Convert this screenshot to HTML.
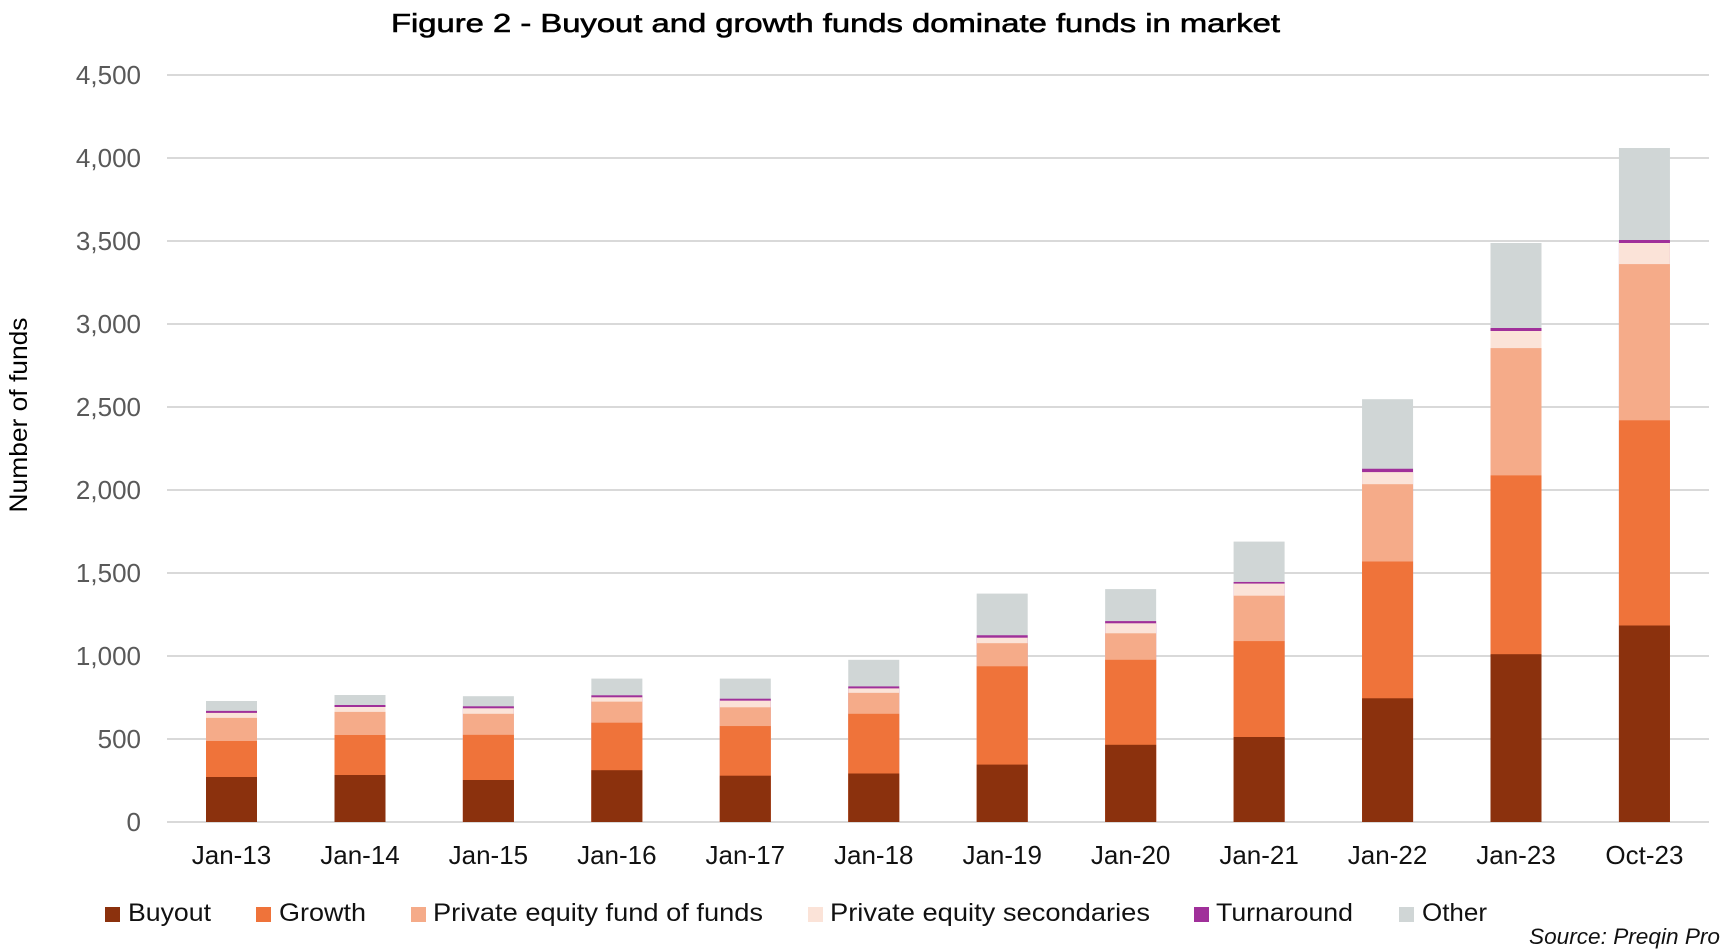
<!DOCTYPE html>
<html>
<head>
<meta charset="utf-8">
<style>
html,body{margin:0;padding:0;background:#fff;}
svg{display:block;}
text{font-family:"Liberation Sans",Arial,sans-serif;}
</style>
</head>
<body>
<svg width="1731" height="950" viewBox="0 0 1731 950" xmlns="http://www.w3.org/2000/svg">
<rect x="0" y="0" width="1731" height="950" fill="#ffffff"/>
<!-- Title -->
<text x="391" y="32" font-size="26" fill="#000" stroke="#000" stroke-width="0.6" textLength="889" lengthAdjust="spacingAndGlyphs">Figure 2 - Buyout and growth funds dominate funds in market</text>

<!-- Gridlines -->
<g stroke="#d9d9d9" stroke-width="2">
<line x1="167" y1="822" x2="1709" y2="822"/>
<line x1="167" y1="739" x2="1709" y2="739"/>
<line x1="167" y1="656" x2="1709" y2="656"/>
<line x1="167" y1="573" x2="1709" y2="573"/>
<line x1="167" y1="490" x2="1709" y2="490"/>
<line x1="167" y1="407" x2="1709" y2="407"/>
<line x1="167" y1="324" x2="1709" y2="324"/>
<line x1="167" y1="241" x2="1709" y2="241"/>
<line x1="167" y1="158" x2="1709" y2="158"/>
<line x1="167" y1="75" x2="1709" y2="75"/>
</g>

<!-- Y tick labels -->
<g font-size="26" fill="#595959" text-anchor="end">
<text x="141" y="831">0</text>
<text x="141" y="748">500</text>
<text x="141" y="665">1,000</text>
<text x="141" y="582">1,500</text>
<text x="141" y="499">2,000</text>
<text x="141" y="416">2,500</text>
<text x="141" y="333">3,000</text>
<text x="141" y="250">3,500</text>
<text x="141" y="167">4,000</text>
<text x="141" y="84">4,500</text>
</g>

<!-- Y axis title -->
<text transform="translate(27,415) rotate(-90)" font-size="25" fill="#000" text-anchor="middle" textLength="195" lengthAdjust="spacingAndGlyphs">Number of funds</text>

<!-- Bars -->
<g>
<!-- Jan-13 -->
<rect x="206" y="701" width="51" height="121" fill="#d0d6d6"/>
<rect x="206" y="710.9" width="51" height="111.1" fill="#a0309a"/>
<rect x="206" y="712.9" width="51" height="109.1" fill="#fbe3d8"/>
<rect x="206" y="717.9" width="51" height="104.1" fill="#f5ab89"/>
<rect x="206" y="741" width="51" height="81" fill="#ef733a"/>
<rect x="206" y="777" width="51" height="45" fill="#8b310d"/>
<!-- Jan-14 -->
<rect x="334.5" y="695" width="51" height="127" fill="#d0d6d6"/>
<rect x="334.5" y="705" width="51" height="117" fill="#a0309a"/>
<rect x="334.5" y="707" width="51" height="115" fill="#fbe3d8"/>
<rect x="334.5" y="711.9" width="51" height="110.1" fill="#f5ab89"/>
<rect x="334.5" y="735" width="51" height="87" fill="#ef733a"/>
<rect x="334.5" y="775" width="51" height="47" fill="#8b310d"/>
<!-- Jan-15 -->
<rect x="462.9" y="696.2" width="51" height="125.8" fill="#d0d6d6"/>
<rect x="462.9" y="706.3" width="51" height="115.7" fill="#a0309a"/>
<rect x="462.9" y="708.3" width="51" height="113.7" fill="#fbe3d8"/>
<rect x="462.9" y="713.8" width="51" height="108.2" fill="#f5ab89"/>
<rect x="462.9" y="734.85" width="51" height="87.15" fill="#ef733a"/>
<rect x="462.9" y="780" width="51" height="42" fill="#8b310d"/>
<!-- Jan-16 -->
<rect x="591.35" y="678.6" width="51" height="143.4" fill="#d0d6d6"/>
<rect x="591.35" y="695.3" width="51" height="126.7" fill="#a0309a"/>
<rect x="591.35" y="697.3" width="51" height="124.7" fill="#fbe3d8"/>
<rect x="591.35" y="701.65" width="51" height="120.35" fill="#f5ab89"/>
<rect x="591.35" y="722.7" width="51" height="99.3" fill="#ef733a"/>
<rect x="591.35" y="770.2" width="51" height="51.8" fill="#8b310d"/>
<!-- Jan-17 -->
<rect x="719.8" y="678.6" width="51" height="143.4" fill="#d0d6d6"/>
<rect x="719.8" y="698.7" width="51" height="123.3" fill="#a0309a"/>
<rect x="719.8" y="700.65" width="51" height="121.35" fill="#fbe3d8"/>
<rect x="719.8" y="707.3" width="51" height="114.7" fill="#f5ab89"/>
<rect x="719.8" y="726.05" width="51" height="95.95" fill="#ef733a"/>
<rect x="719.8" y="775.7" width="51" height="46.3" fill="#8b310d"/>
<!-- Jan-18 -->
<rect x="848.25" y="659.8" width="51" height="162.2" fill="#d0d6d6"/>
<rect x="848.25" y="686.4" width="51" height="135.6" fill="#a0309a"/>
<rect x="848.25" y="688.4" width="51" height="133.6" fill="#fbe3d8"/>
<rect x="848.25" y="692.85" width="51" height="129.15" fill="#f5ab89"/>
<rect x="848.25" y="713.8" width="51" height="108.2" fill="#ef733a"/>
<rect x="848.25" y="773.5" width="51" height="48.5" fill="#8b310d"/>
<!-- Jan-19 -->
<rect x="976.7" y="593.6" width="51" height="228.4" fill="#d0d6d6"/>
<rect x="976.7" y="635.25" width="51" height="186.75" fill="#a0309a"/>
<rect x="976.7" y="637.7" width="51" height="184.3" fill="#fbe3d8"/>
<rect x="976.7" y="643.2" width="51" height="178.8" fill="#f5ab89"/>
<rect x="976.7" y="666.3" width="51" height="155.7" fill="#ef733a"/>
<rect x="976.7" y="764.6" width="51" height="57.4" fill="#8b310d"/>
<!-- Jan-20 -->
<rect x="1105.15" y="589.1" width="51" height="232.9" fill="#d0d6d6"/>
<rect x="1105.15" y="621.1" width="51" height="200.9" fill="#a0309a"/>
<rect x="1105.15" y="623.3" width="51" height="198.7" fill="#fbe3d8"/>
<rect x="1105.15" y="633.3" width="51" height="188.7" fill="#f5ab89"/>
<rect x="1105.15" y="659.8" width="51" height="162.2" fill="#ef733a"/>
<rect x="1105.15" y="744.8" width="51" height="77.2" fill="#8b310d"/>
<!-- Jan-21 -->
<rect x="1233.6" y="541.6" width="51" height="280.4" fill="#d0d6d6"/>
<rect x="1233.6" y="581.96" width="51" height="240.04" fill="#a0309a"/>
<rect x="1233.6" y="583.6" width="51" height="238.4" fill="#fbe3d8"/>
<rect x="1233.6" y="595.7" width="51" height="226.3" fill="#f5ab89"/>
<rect x="1233.6" y="641.1" width="51" height="180.9" fill="#ef733a"/>
<rect x="1233.6" y="737" width="51" height="85" fill="#8b310d"/>
<!-- Jan-22 -->
<rect x="1362.05" y="399.2" width="51" height="422.8" fill="#d0d6d6"/>
<rect x="1362.05" y="468.75" width="51" height="353.25" fill="#a0309a"/>
<rect x="1362.05" y="472.1" width="51" height="349.9" fill="#fbe3d8"/>
<rect x="1362.05" y="484.2" width="51" height="337.8" fill="#f5ab89"/>
<rect x="1362.05" y="561.5" width="51" height="260.5" fill="#ef733a"/>
<rect x="1362.05" y="698.3" width="51" height="123.7" fill="#8b310d"/>
<!-- Jan-23 -->
<rect x="1490.5" y="243" width="51" height="579" fill="#d0d6d6"/>
<rect x="1490.5" y="328" width="51" height="494" fill="#a0309a"/>
<rect x="1490.5" y="331" width="51" height="491" fill="#fbe3d8"/>
<rect x="1490.5" y="348.1" width="51" height="473.9" fill="#f5ab89"/>
<rect x="1490.5" y="475.4" width="51" height="346.6" fill="#ef733a"/>
<rect x="1490.5" y="654.2" width="51" height="167.8" fill="#8b310d"/>
<!-- Oct-23 -->
<rect x="1618.95" y="148" width="51" height="674" fill="#d0d6d6"/>
<rect x="1618.95" y="240" width="51" height="582" fill="#a0309a"/>
<rect x="1618.95" y="243" width="51" height="579" fill="#fbe3d8"/>
<rect x="1618.95" y="264.1" width="51" height="557.9" fill="#f5ab89"/>
<rect x="1618.95" y="420.3" width="51" height="401.7" fill="#ef733a"/>
<rect x="1618.95" y="625.5" width="51" height="196.5" fill="#8b310d"/>
</g>

<!-- X labels -->
<g font-size="26" fill="#111" text-anchor="middle">
<text x="231.5" y="864">Jan-13</text>
<text x="360" y="864">Jan-14</text>
<text x="488.4" y="864">Jan-15</text>
<text x="616.85" y="864">Jan-16</text>
<text x="745.3" y="864">Jan-17</text>
<text x="873.75" y="864">Jan-18</text>
<text x="1002.2" y="864">Jan-19</text>
<text x="1130.65" y="864">Jan-20</text>
<text x="1259.1" y="864">Jan-21</text>
<text x="1387.55" y="864">Jan-22</text>
<text x="1516" y="864">Jan-23</text>
<text x="1644.45" y="864">Oct-23</text>
</g>

<!-- Legend -->
<g>
<rect x="105" y="907" width="15" height="15" fill="#8b310d"/>
<rect x="256" y="907" width="15" height="15" fill="#ef733a"/>
<rect x="411" y="907" width="15" height="15" fill="#f5ab89"/>
<rect x="808" y="907" width="15" height="15" fill="#fbe3d8"/>
<rect x="1194" y="907" width="15" height="15" fill="#a0309a"/>
<rect x="1399" y="907" width="15" height="15" fill="#d0d6d6"/>
</g>
<g font-size="25" fill="#111">
<text x="128" y="921" textLength="83" lengthAdjust="spacingAndGlyphs">Buyout</text>
<text x="279" y="921" textLength="87" lengthAdjust="spacingAndGlyphs">Growth</text>
<text x="433" y="921" textLength="330" lengthAdjust="spacingAndGlyphs">Private equity fund of funds</text>
<text x="830" y="921" textLength="320" lengthAdjust="spacingAndGlyphs">Private equity secondaries</text>
<text x="1216" y="921" textLength="137" lengthAdjust="spacingAndGlyphs">Turnaround</text>
<text x="1422" y="921" textLength="65" lengthAdjust="spacingAndGlyphs">Other</text>
</g>

<!-- Source -->
<text x="1529" y="944" font-size="22" font-style="italic" fill="#111" textLength="191" lengthAdjust="spacingAndGlyphs">Source: Preqin Pro</text>
</svg>
</body>
</html>
